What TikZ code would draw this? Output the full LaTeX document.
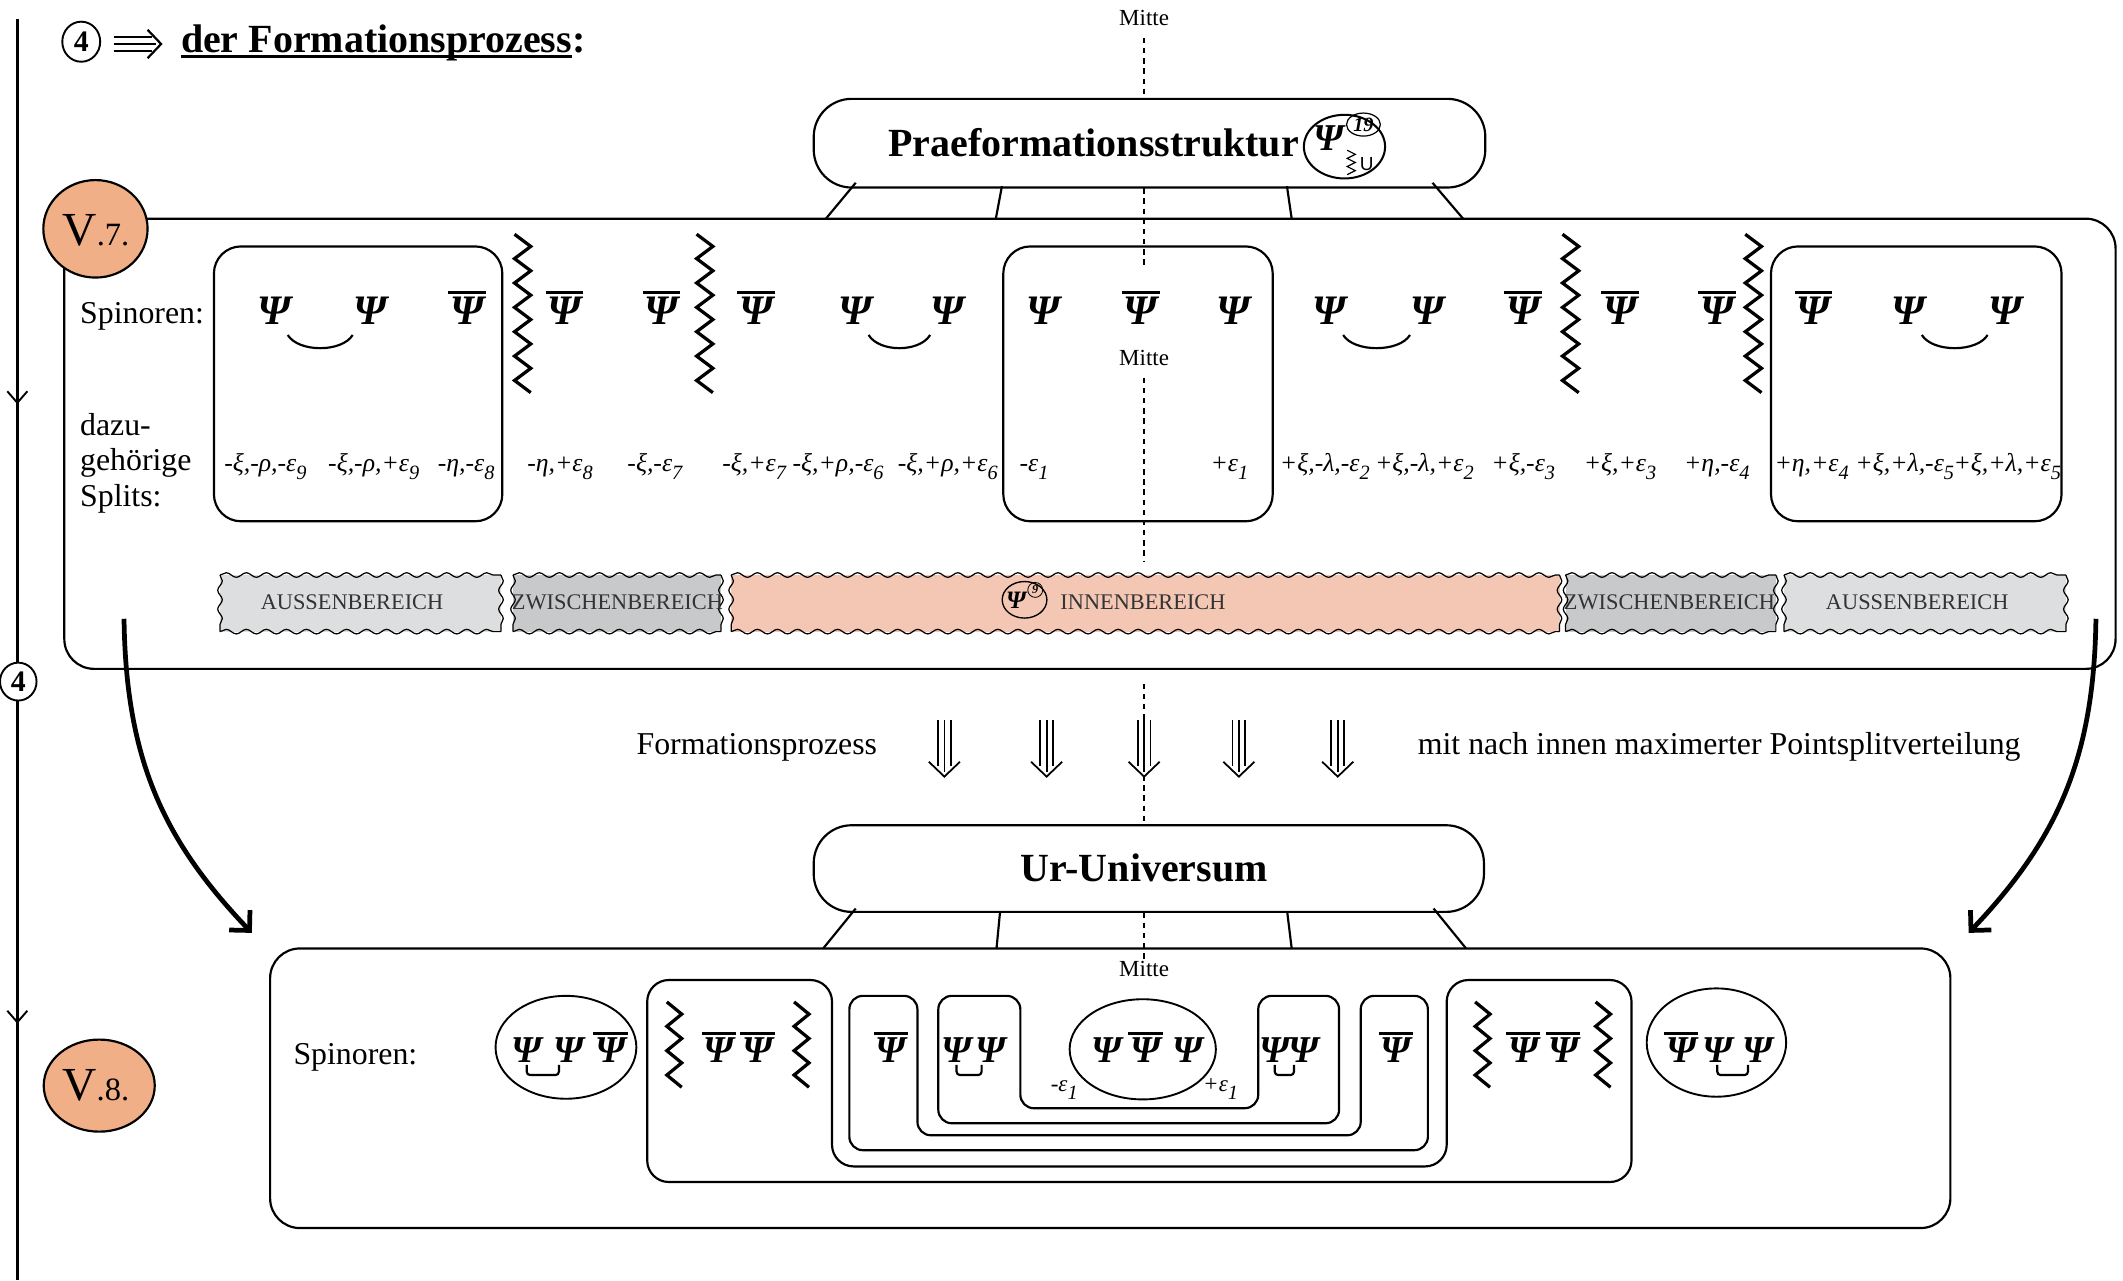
\documentclass[tikz,border=0pt]{standalone}
\usepackage{fontspec}
\setmainfont{Liberation Serif}
\newfontfamily\sansfont{Liberation Sans}
\usetikzlibrary{decorations.pathmorphing,arrows.meta,shapes.geometric,calc}
\definecolor{vorange}{HTML}{F0AF86}
\definecolor{innenc}{HTML}{F4C7B5}
\definecolor{aussenc}{HTML}{DDDEE0}
\definecolor{zwischenc}{HTML}{C8C9CB}
\newcommand\fsz[1]{\fontsize{#1}{#1}\selectfont}
\newcommand\PsiP{Ψ}
\newcommand\PsiB{\setbox0\hbox{Ψ}\vbox{\offinterlineskip\hbox to\wd0{\hss\vrule width\dimexpr\wd0+3pt\relax height 0.085em\hss}\kern0.08em\box0}}
\newcommand\subx[1]{\raisebox{-6pt}{\fsz{15}#1}}
\newcommand\zigz[6]{\draw[zz] plot[domain=0:#3, samples=#4] ({#1+#5*mod(round(\x),2)},{#2+#6*\x});}
\newcommand\bandbox[5]{%
  \fill[#5] (#1,#2) rectangle (#3,#4);
  \draw[bandst] (#1,#2) -- (#3,#2);
  \draw[bandst] (#1,#4) -- (#3,#4);
  \draw[bandst, decoration={segment length=13.9pt}] (#1,#2) -- (#1,#4);
  \draw[bandst, decoration={segment length=13.9pt}] (#3,#2) -- (#3,#4);}
\begin{document}
\begin{tikzpicture}[x=1pt,y=-1pt,
  boxline/.style={draw, line width=1.6pt, inner sep=0pt},
  psitop/.style={anchor=base, inner sep=0pt, font=\fsz{31}\bfseries\itshape},
  psibot/.style={anchor=base, inner sep=0pt, font=\fsz{28}\bfseries\itshape},
  splt/.style={anchor=base, inner sep=0pt, font=\fsz{19}\itshape},
  lbl/.style={anchor=base west, inner sep=0pt, font=\fsz{23.5}},
  mline/.style={dash pattern=on 4pt off 3.5pt, line width=1.5pt},
  mtxt/.style={anchor=base, inner sep=0pt, font=\fsz{17}},
  zz/.style={line width=2.4pt, line join=miter},
  bandst/.style={line width=0.9pt, decorate, decoration={snake, segment length=14.8pt, amplitude=1.7pt}},
  btxt/.style={anchor=base, inner sep=0pt, font=\fsz{16.5}, text=black!80},
  smile/.style={line width=1.6pt},
  brk/.style={line width=1.6pt, rounded corners=2.5pt},
  bigarrow/.style={line width=3.5pt, -{Straight Barb[angle=90:15pt]}},
  conn/.style={line width=1.6pt},
  tarrow/.style={line width=1.3pt}]
\useasboundingbox (0,0) rectangle (1568,945.4);

% left vertical line
\coordinate (lv0) at (12.8,14);
\coordinate (lv1) at (12.8,945.4);
\draw[line width=1.8pt] (lv0) -- (lv1);
\draw[line width=1.4pt] (5.4,289) -- (12.8,297.5) -- (20.2,289);
\draw[line width=1.4pt] (5.4,746.5) -- (12.8,755) -- (20.2,746.5);
\node[draw, ellipse, fill=white, line width=1.4pt, minimum width=27, minimum height=28, inner sep=0pt, font=\fsz{22}\bfseries] (c4b) at (13.5,503.4) {4};

% title
\node[draw, ellipse, line width=1.4pt, minimum width=28, minimum height=29.6, inner sep=0pt, font=\fsz{22}\bfseries] (c4a) at (60,30.8) {4};
\draw[line width=1.6pt] (84,27.1) -- (112,27.1) (84,32.5) -- (115,32.5) (84,37.9) -- (112,37.9);
\draw[line width=1.6pt] (109,22) -- (119,32.5) -- (109,43);
\node[anchor=base west, inner sep=0pt, font=\fsz{29.5}\bfseries] (ttl) at (133.5,38.9) {der Formationsprozess};
\node[anchor=base west, inner sep=0pt, font=\fsz{29.5}\bfseries] (ttlc) at (ttl.base east) {:};
\draw[line width=2pt] ([yshift=-3pt]ttl.base west) -- ([yshift=-3pt]ttl.base east);

% Mitte top
\node[mtxt] (mt1) at (845,18.5) {Mitte};
\coordinate (md0) at (845,28);
\coordinate (md1) at (845,72.5);
\draw[mline] (md0) -- (md1);

% Praeformationsstruktur
\node[boxline, rounded corners=28pt, minimum width=496, minimum height=65.5] (praef) at (849,105.75) {};
\node[anchor=base west, inner sep=0pt, font=\fsz{29.5}\bfseries] (praeft) at (656,115.7) {Praeformationsstruktur};
\node[draw, ellipse, line width=1.5pt, minimum width=60, minimum height=47, inner sep=0pt] (p19) at (993,108.3) {};
\node[anchor=base, inner sep=0pt, font=\fsz{28}\bfseries\itshape] (p19psi) at (981,111) {Ψ};
\node[draw, ellipse, line width=0.9pt, minimum width=25, minimum height=17, inner sep=0pt, font=\fsz{15}\bfseries\itshape] (c19) at (1007,92) {19};
\draw[line width=0.9pt] plot[domain=0:6, samples=7] ({995+6*mod(round(\x),2)},{111+3*\x});
\node[anchor=base, inner sep=0pt, font=\sansfont\fsz{14}] (p19u) at (1009.5,125.6) {U};

% connectors praef -> V.7
\coordinate (pa1) at (632,135);   \coordinate (pb1) at (610,161.5);
\coordinate (pa2) at (740,137.5); \coordinate (pb2) at (735.5,161.5);
\coordinate (pa3) at (950.5,137.5); \coordinate (pb3) at (954,161.5);
\coordinate (pa4) at (1058,135);  \coordinate (pb4) at (1080.6,161.5);
\foreach \i in {1,...,4} \draw[conn] (pa\i) -- (pb\i);

% V.7 box
\node[boxline, rounded corners=22pt, minimum width=1515, minimum height=332.5] (v7) at (805,327.75) {};
\node[draw, ellipse, fill=vorange, line width=1.6pt, minimum width=77, minimum height=72, inner sep=0pt] (v7c) at (70.5,169) {};
\node[anchor=base, inner sep=0pt] (v7t) at (70.9,181) {\fsz{35}V\fsz{24}.7.};

% inner boxes
\node[boxline, rounded corners=20pt, minimum width=213, minimum height=203] (bx1) at (264.5,283.5) {};
\node[boxline, rounded corners=20pt, minimum width=199, minimum height=203] (bx2) at (840.5,283.5) {};
\node[boxline, rounded corners=20pt, minimum width=214.6, minimum height=203] (bx3) at (1415.3,283.5) {};

% Mitte inside V.7
\coordinate (md2) at (845,139);
\coordinate (md3) at (845,197);
\draw[mline] (md2) -- (md3);
\node[mtxt] (mt2) at (845,269.6) {Mitte};
\coordinate (md4) at (845,279);
\coordinate (md5) at (845,415);
\draw[mline] (md4) -- (md5);

% labels
\node[lbl] (sp7) at (59,238.8) {Spinoren:};
\node[lbl] (dz1) at (59,321.3) {dazu-};
\node[lbl] (dz2) at (59,347.3) {gehörige};
\node[lbl] (dz3) at (59,373.8) {Splits:};

% spinors top row
\foreach \xx/\k [count=\i] in {202.5/P,273.5/P,345/B,417/B,488.6/B,558.5/B,631.5/P,700/P,770.4/P,842.5/B,911/P,982/P,1054.4/P,1125/B,1196.5/B,1268/B,1339.5/B,1409.4/P,1481/P}
  \node[psitop] (t\i) at (\xx,240) {\csname Psi\k\endcsname};
\foreach \a/\b in {1/2,7/8,12/13,18/19}
  \draw[smile] ($(t\a.base)+(10,7.4)$) .. controls +(8,13) and +(-8,13) .. ($(t\b.base)+(-13,7.4)$);

% zigzags top
\zigz{380}{173}{13}{14}{12}{9}
\zigz{514.5}{173}{13}{14}{12}{9}
\zigz{1154}{173}{13}{14}{12}{9}
\zigz{1289}{173}{13}{14}{12}{9}

% splits
\foreach \xx/\t [count=\i] in {196/{-ξ,-ρ,-ε\subx{9}},276/{-ξ,-ρ,+ε\subx{9}},344.3/{-η,-ε\subx{8}},413.6/{-η,+ε\subx{8}},483.7/{-ξ,-ε\subx{7}},557/{-ξ,+ε\subx{7}},619/{-ξ,+ρ,-ε\subx{6}},700/{-ξ,+ρ,+ε\subx{6}},763.7/{-ε\subx{1}},908/{+ε\subx{1}},978.5/{+ξ,-λ,-ε\subx{2}},1052/{+ξ,-λ,+ε\subx{2}},1125/{+ξ,-ε\subx{3}},1196.5/{+ξ,+ε\subx{3}},1268/{+η,-ε\subx{4}},1338/{+η,+ε\subx{4}},1406.8/{+ξ,+λ,-ε\subx{5}},1482.5/{+ξ,+λ,+ε\subx{5}}}
  \node[splt] (sl\i) at (\xx,348.4) {\t};

% bands
\bandbox{162.5}{424.7}{370}{466.5}{aussenc}
\bandbox{378.9}{424.7}{532.5}{466.5}{zwischenc}
\bandbox{540}{424.7}{1151.8}{466.5}{innenc}
\bandbox{1156.3}{424.7}{1311.6}{466.5}{zwischenc}
\bandbox{1317.6}{424.7}{1525.8}{466.5}{aussenc}
\node[btxt] (au1) at (260,450) {AUSSENBEREICH};
\node[btxt] (zw1) at (456,450) {ZWISCHENBEREICH};
\node[btxt] (zw2) at (1233,450) {ZWISCHENBEREICH};
\node[btxt] (au2) at (1416,450) {AUSSENBEREICH};
\node[btxt, anchor=base west] (inn) at (783,450) {INNENBEREICH};
\node[draw, ellipse, line width=1pt, minimum width=33, minimum height=27, inner sep=0pt] (ipsi) at (756.7,443) {};
\node[anchor=base, inner sep=0pt, font=\fsz{18.5}\bfseries\itshape] (ipsip) at (750.4,449.3) {Ψ};
\node[draw, circle, line width=0.6pt, minimum size=11, inner sep=0pt, font=\fsz{9}\bfseries\itshape] (i9) at (764.6,435.7) {9};

% big arrows
\coordinate (la0) at (91.6,457);  \coordinate (la1) at (186,689);
\coordinate (ra0) at (1548,457);  \coordinate (ra1) at (1454,689);
\draw[bigarrow] (la0) .. controls (93,560) and (120,620) .. (la1);
\draw[bigarrow] (ra0) .. controls (1546.6,560) and (1519.6,620) .. (ra1);

% formation process
\node[lbl] (fp) at (470,557.6) {Formationsprozess};
\node[lbl] (mn) at (1047,557.6) {mit nach innen maximerter Pointsplitverteilung};
\foreach \c in {697.5,773,845,915,988} {
  \draw[tarrow] (\c-4.7,532) -- (\c-4.7,566) (\c,532) -- (\c,570) (\c+4.7,532) -- (\c+4.7,566);
  \draw[tarrow] (\c-11.5,562.6) -- (\c,573.6) -- (\c+11.5,562.6);
}
\coordinate (md6) at (845,505);
\coordinate (md7) at (845,609.5);
\draw[mline] (md6) -- (md7);

% Ur-Universum
\node[boxline, rounded corners=28pt, minimum width=495, minimum height=64] (ur) at (848.5,641.5) {};
\node[anchor=base, inner sep=0pt, font=\fsz{29.5}\bfseries] (urt) at (845,651.2) {Ur-Universum};
\coordinate (ua1) at (632,671);   \coordinate (ub1) at (608,700.5);
\coordinate (ua2) at (738.6,673.5); \coordinate (ub2) at (736,700.5);
\coordinate (ua3) at (950.7,673.5); \coordinate (ub3) at (954,700.5);
\coordinate (ua4) at (1058.8,671); \coordinate (ub4) at (1082.8,700.5);
\foreach \i in {1,...,4} \draw[conn] (ua\i) -- (ub\i);
\coordinate (md8) at (845,674);
\coordinate (md9) at (845,708);
\draw[mline] (md8) -- (md9);

% V.8
\node[boxline, rounded corners=22pt, minimum width=1241, minimum height=206.5] (v8) at (820,803.75) {};
\node[draw, ellipse, fill=vorange, line width=1.6pt, minimum width=82, minimum height=68, inner sep=0pt] (v8c) at (73.3,801.8) {};
\node[anchor=base, inner sep=0pt] (v8t) at (70.8,812.5) {\fsz{35}V\fsz{24}.8.};
\node[lbl] (sp8) at (216.6,786) {Spinoren:};
\node[mtxt] (mt3) at (845,721) {Mitte};

% nested U shapes
\draw[line width=1.6pt, rounded corners=16pt] (546,723.8) -- (614.5,723.8) -- (614.5,861.5) -- (1068.5,861.5) -- (1068.5,723.8) -- (1205,723.8) -- (1205,873) -- (478,873) -- (478,723.8) -- cycle;
\draw[line width=1.6pt, rounded corners=10pt] (650,735.5) -- (677.6,735.5) -- (677.6,838.5) -- (1005,838.5) -- (1005,735.5) -- (1054.6,735.5) -- (1054.6,849.5) -- (627.3,849.5) -- (627.3,735.5) -- cycle;
\draw[line width=1.6pt, rounded corners=10pt] (720,735.5) -- (753.6,735.5) -- (753.6,818.5) -- (929.3,818.5) -- (929.3,735.5) -- (989,735.5) -- (989,829.6) -- (693,829.6) -- (693,735.5) -- cycle;

% ellipses
\node[draw, ellipse, line width=1.4pt, minimum width=104, minimum height=76, inner sep=0pt] (e1) at (418,773.5) {};
\node[draw, ellipse, line width=1.4pt, minimum width=108, minimum height=74, inner sep=0pt] (e2) at (844,775) {};
\node[draw, ellipse, line width=1.4pt, minimum width=103, minimum height=80, inner sep=0pt] (e3) at (1267.7,770) {};

% bottom spinors
\foreach \xx/\k [count=\i] in {389/P,419.8/P,451/B,531/B,559.5/B,658/B,706.5/P,732/P,817/P,846/B,877/P,941.5/P,962.7/P,1031/B,1125/B,1154.5/B,1241.7/B,1268.3/P,1298/P}
  \node[psibot] (b\i) at (\xx,785) {\csname Psi\k\endcsname};
\foreach \a/\b in {1/2,7/8,12/13,18/19}
  \draw[brk] ($(b\a.base)+(0,1.5)$) -- ($(b\a.base)+(0,9)$) -- ($(b\b.base)+(-7,9)$) -- ($(b\b.base)+(-7,1.5)$);
\node[splt, font=\fsz{17}\itshape] (em1) at (786,806) {-ε\subx{1}};
\node[splt, font=\fsz{17}\itshape] (ep1) at (901.5,806) {+ε\subx{1}};

% bottom zigzags
\zigz{492.5}{740}{7}{8}{11}{9}
\zigz{586.5}{740}{7}{8}{11}{9}
\zigz{1089.5}{740}{7}{8}{11}{9}
\zigz{1178.5}{740}{7}{8}{11}{9}
\end{tikzpicture}
\end{document}
